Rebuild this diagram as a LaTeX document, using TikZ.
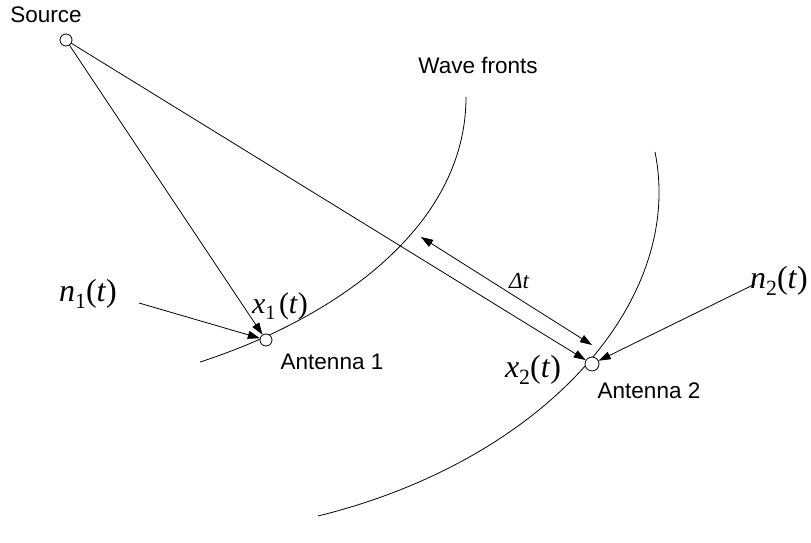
\documentclass[tikz,border=0pt]{standalone}
\usepackage{fontspec}
\setmainfont{Liberation Sans}
\newfontfamily\tms{Liberation Serif}
\usetikzlibrary{arrows.meta}
\newcommand\mysig[3]{{\tms\fontsize{#3}{#3}\selectfont\textit{#1}\raisebox{-0.22em}{\fontsize{0.68\dimexpr#3pt\relax}{10}\selectfont #2}(\textit{t})}}
\tikzset{
  wire/.style={line width=0.8pt},
  arr/.style={wire,-{Triangle[length=12pt,width=8pt]}},
  darr/.style={wire,{Triangle[length=12pt,width=8pt]}-{Triangle[length=12pt,width=8pt]}},
  ant/.style={circle,draw,line width=0.8pt,fill=white,inner sep=0pt,minimum size=12pt},
  lbl/.style={font=\fontsize{22.5}{25}\selectfont,inner sep=0pt},
}
\begin{document}
\begin{tikzpicture}[x=1pt,y=-1pt]
\useasboundingbox (0,0) rectangle (811,543);
% wave fronts
\draw[wire] (200,362) .. controls (330,320) and (466,230) .. (466,97);
\draw[wire] (655,152) .. controls (685,300) and (545,460) .. (318,516);
% nodes
\node[ant] (src) at (66,40) {};
\node[ant] (a1) at (266,340) {};
\node[ant,minimum size=14pt] (a2) at (592,364) {};
\coordinate (n1s) at (139,303);
\coordinate (n2s) at (755,284);
\coordinate (d1) at (421,237);
\coordinate (d2) at (592,345);
% connectors
\draw[arr] (src) -- (a1);
\draw[arr] (src) -- (a2);
\draw[arr] (n1s) -- (a1);
\draw[arr] (n2s) -- (a2);
\draw[darr] (d1) -- (d2);
% texts
\node[lbl] (tsrc) at (46,15) {Source};
\node[lbl] (twf) at (478,65) {Wave fronts};
\node[lbl] (ta1) at (332,362) {Antenna 1};
\node[lbl] (ta2) at (649,391) {Antenna 2};
\node[inner sep=0pt] (tn1) at (88,294) {\mysig{n}{1}{32}};
\node[inner sep=0pt] (tn2) at (779,281) {\mysig{n}{2}{32}};
\node[inner sep=0pt] (tx1) at (280,306) {\mysig{x}{1\,}{30}};
\node[inner sep=0pt] (tx2) at (533,370) {\mysig{x}{2}{32}};
\node[inner sep=0pt] (tdt) at (519,281) {\tms\itshape\fontsize{23}{25}\selectfont Δt};
\end{tikzpicture}
\end{document}
